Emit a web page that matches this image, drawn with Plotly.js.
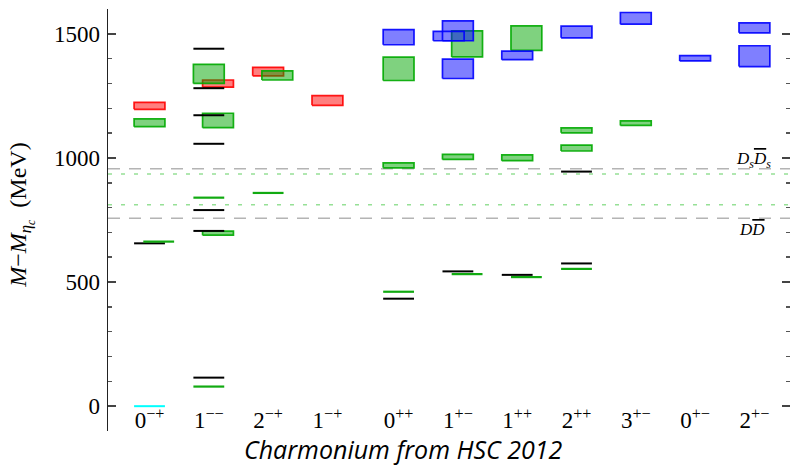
<!DOCTYPE html>
<html>
<head>
<meta charset="utf-8">
<script src="https://cdn.plot.ly/plotly-3.0.1.min.js"></script>
<style>html,body{margin:0;padding:0;background:#fff;}#chart{width:790px;height:467px;}</style>
</head>
<body>
<div id="chart"></div>
<script>
// ---- data ----
var categories = ["0<sup>\u2212+</sup>","1<sup>\u2212\u2212</sup>","2<sup>\u2212+</sup>","1<sup>\u2212+</sup>","0<sup>++</sup>","1<sup>+\u2212</sup>","1<sup>++</sup>","2<sup>++</sup>","3<sup>+\u2212</sup>","0<sup>+\u2212</sup>","2<sup>+\u2212</sup>"];
var yTickVals = [0, 500, 1000, 1500];

// experimental levels (black lines): column index, value, slot
var blackCol  = [0, 1, 1, 1, 1, 1, 1, 1, 4, 5, 6, 7, 7];
var blackVal  = [656, 1440, 1281, 1172, 1057, 790, 706, 115, 433, 543, 529, 945, 575];
var blackSlot = [0, 0, 0, 0, 0, 0, 0, 0, 0, 0, 0, 0, 0];

// cyan level
var cyanCol = [0];
var cyanVal = [0];

// green thin levels
var gLineCol  = [0, 1, 1, 2, 4, 5, 6, 7];
var gLineVal  = [663, 840, 79, 859, 461, 532, 520, 553];
var gLineSlot = [1, 0, 0, 0, 0, 1, 1, 0];

// green boxes: column, low, high, slot
var gBoxCol  = [0, 1, 1, 1, 2, 4, 4, 5, 5, 6, 6, 7, 7, 8];
var gBoxLo   = [1126, 1300, 1122, 689, 1314, 1312, 960, 1407, 994, 1433, 989, 1101, 1028, 1131];
var gBoxHi   = [1157, 1377, 1180, 705, 1351, 1406, 980, 1512, 1014, 1532, 1012, 1121, 1052, 1149];
var gBoxSlot = [0, 0, 1, 1, 1, 0, 0, 1, 0, 1, 0, 0, 0, 0];

// red boxes
var rBoxCol  = [0, 1, 2, 3];
var rBoxLo   = [1196, 1285, 1331, 1212];
var rBoxHi   = [1224, 1314, 1365, 1251];
var rBoxSlot = [0, 1, 0, 0];

// blue boxes
var bBoxCol  = [4, 5, 5, 5, 6, 7, 8, 9, 10, 10];
var bBoxLo   = [1456, 1472, 1472, 1320, 1396, 1484, 1539, 1391, 1504, 1368];
var bBoxHi   = [1517, 1552, 1510, 1398, 1430, 1531, 1586, 1412.5, 1544, 1452];
var bBoxSlot = [0, 0, -1, 0, 0, 0, 0, 0, 0, 0];

// thresholds
var grayThresh = [956, 757];
var greenThresh = [935, 811];
var threshLabels = ["<i>D<sub>s</sub><span style='text-decoration:overline'>D</span><sub>s</sub></i>", "<i>D<span style='text-decoration:overline'>D</span></i>"];
var threshLabelVal = [990, 712];

// ---- layout helpers ----
function colX(i){ return i + 1 + (i >= 4 ? 0.2 : 0); }
var HALF = 0.26, SHIFT = 0.155;
var XMIN = 0.3, XMAX = 11.8;

function boxTrace(cols, lo, hi, slot, line, fill){
  var xs = [], ys = [];
  for (var k = 0; k < cols.length; k++){
    var c = colX(cols[k]) + slot[k]*SHIFT;
    xs.push(c-HALF, c+HALF, c+HALF, c-HALF, c-HALF, null);
    ys.push(lo[k], lo[k], hi[k], hi[k], lo[k], null);
  }
  return {x: xs, y: ys, mode: 'lines', fill: 'toself', fillcolor: fill,
          line: {color: line, width: 1.7}, hoverinfo: 'skip', showlegend: false};
}
function levelTrace(cols, vals, slot, color, w){
  var xs = [], ys = [];
  for (var k = 0; k < cols.length; k++){
    var c = colX(cols[k]) + (slot ? slot[k] : 0)*SHIFT;
    xs.push(c-HALF, c+HALF, null);
    ys.push(vals[k], vals[k], null);
  }
  return {x: xs, y: ys, mode: 'lines', line: {color: color, width: w},
          hoverinfo: 'skip', showlegend: false};
}
function hTrace(vals, color, dash){
  var xs = [], ys = [];
  for (var k = 0; k < vals.length; k++){ xs.push(XMIN, XMAX, null); ys.push(vals[k], vals[k], null); }
  return {x: xs, y: ys, mode: 'lines', line: {color: color, width: 1.5, dash: dash},
          hoverinfo: 'skip', showlegend: false};
}

var traces = [
  hTrace(grayThresh, '#b4b4b4', '12px,9px'),
  hTrace(greenThresh, '#96e096', '4px,9px'),
  boxTrace(rBoxCol, rBoxLo, rBoxHi, rBoxSlot, 'rgba(255,0,0,0.9)', 'rgba(255,0,0,0.5)'),
  boxTrace(gBoxCol, gBoxLo, gBoxHi, gBoxSlot, 'rgba(0,170,0,0.9)', 'rgba(0,165,0,0.5)'),
  boxTrace(bBoxCol, bBoxLo, bBoxHi, bBoxSlot, 'rgba(0,0,255,0.9)', 'rgba(0,0,255,0.5)'),
  levelTrace(blackCol, blackVal, blackSlot, '#000000', 2),
  levelTrace(gLineCol, gLineVal, gLineSlot, '#11aa11', 2.2),
  levelTrace(cyanCol, cyanVal, null, '#00ffff', 2)
];

var tickPos = categories.map(function(_, i){ return colX(i); });

var serifFont = "Liberation Serif";
var layout = {
  width: 790, height: 467,
  margin: {l: 108, r: 0, t: 9, b: 36},
  paper_bgcolor: '#ffffff', plot_bgcolor: '#ffffff',
  showlegend: false,
  font: {family: serifFont, color: '#000'},
  xaxis: {
    range: [XMIN, XMAX], tickmode: 'array', tickvals: tickPos, ticktext: categories,
    anchor: 'free', position: 0.063,
    ticks: '', showline: false, showgrid: false, zeroline: false,
    tickfont: {family: serifFont, size: 23, color: '#000'}
  },
  yaxis: {
    range: [-100, 1600], tickmode: 'array', tickvals: yTickVals,
    ticks: 'inside', ticklen: 8, tickwidth: 1.5, tickcolor: '#444',
    showline: true, linecolor: '#222', linewidth: 1.5, mirror: 'ticks',
    showgrid: false, zeroline: false, ticklabelstandoff: 2,
    minor: {dtick: 100, tick0: 0, ticks: 'inside', ticklen: 4, tickwidth: 1.5, tickcolor: '#555'},
    tickfont: {family: serifFont, size: 23, color: '#000'}
  },
  annotations: [
    {xref: 'paper', yref: 'paper', x: 0, y: 0.51, xshift: -86, xanchor: 'center', yanchor: 'middle',
     textangle: -90, showarrow: false,
     text: "<i>M</i>\u2212<i>M</i><sub><i>\u03b7<sub>c</sub></i></sub>  (MeV)",
     font: {family: serifFont, size: 24, color: '#000'}},
    {xref: 'paper', yref: 'paper', x: 0.4336, y: 0, yshift: -18, xanchor: 'center', yanchor: 'middle',
     showarrow: false, text: '<i>Charmonium from HSC 2012</i>',
     font: {family: "Open Sans", size: 25, color: '#000'}},
    {xref: 'x', yref: 'y', x: 11.51, y: threshLabelVal[0], xanchor: 'right', yanchor: 'middle',
     showarrow: false, text: threshLabels[0], font: {family: serifFont, size: 17, color: '#000'}},
    {xref: 'x', yref: 'y', x: 11.41, y: threshLabelVal[1], xanchor: 'right', yanchor: 'middle',
     showarrow: false, text: threshLabels[1], font: {family: serifFont, size: 17, color: '#000'}}
  ]
};

Plotly.newPlot('chart', traces, layout, {staticPlot: true, displayModeBar: false});
</script>
</body>
</html>
